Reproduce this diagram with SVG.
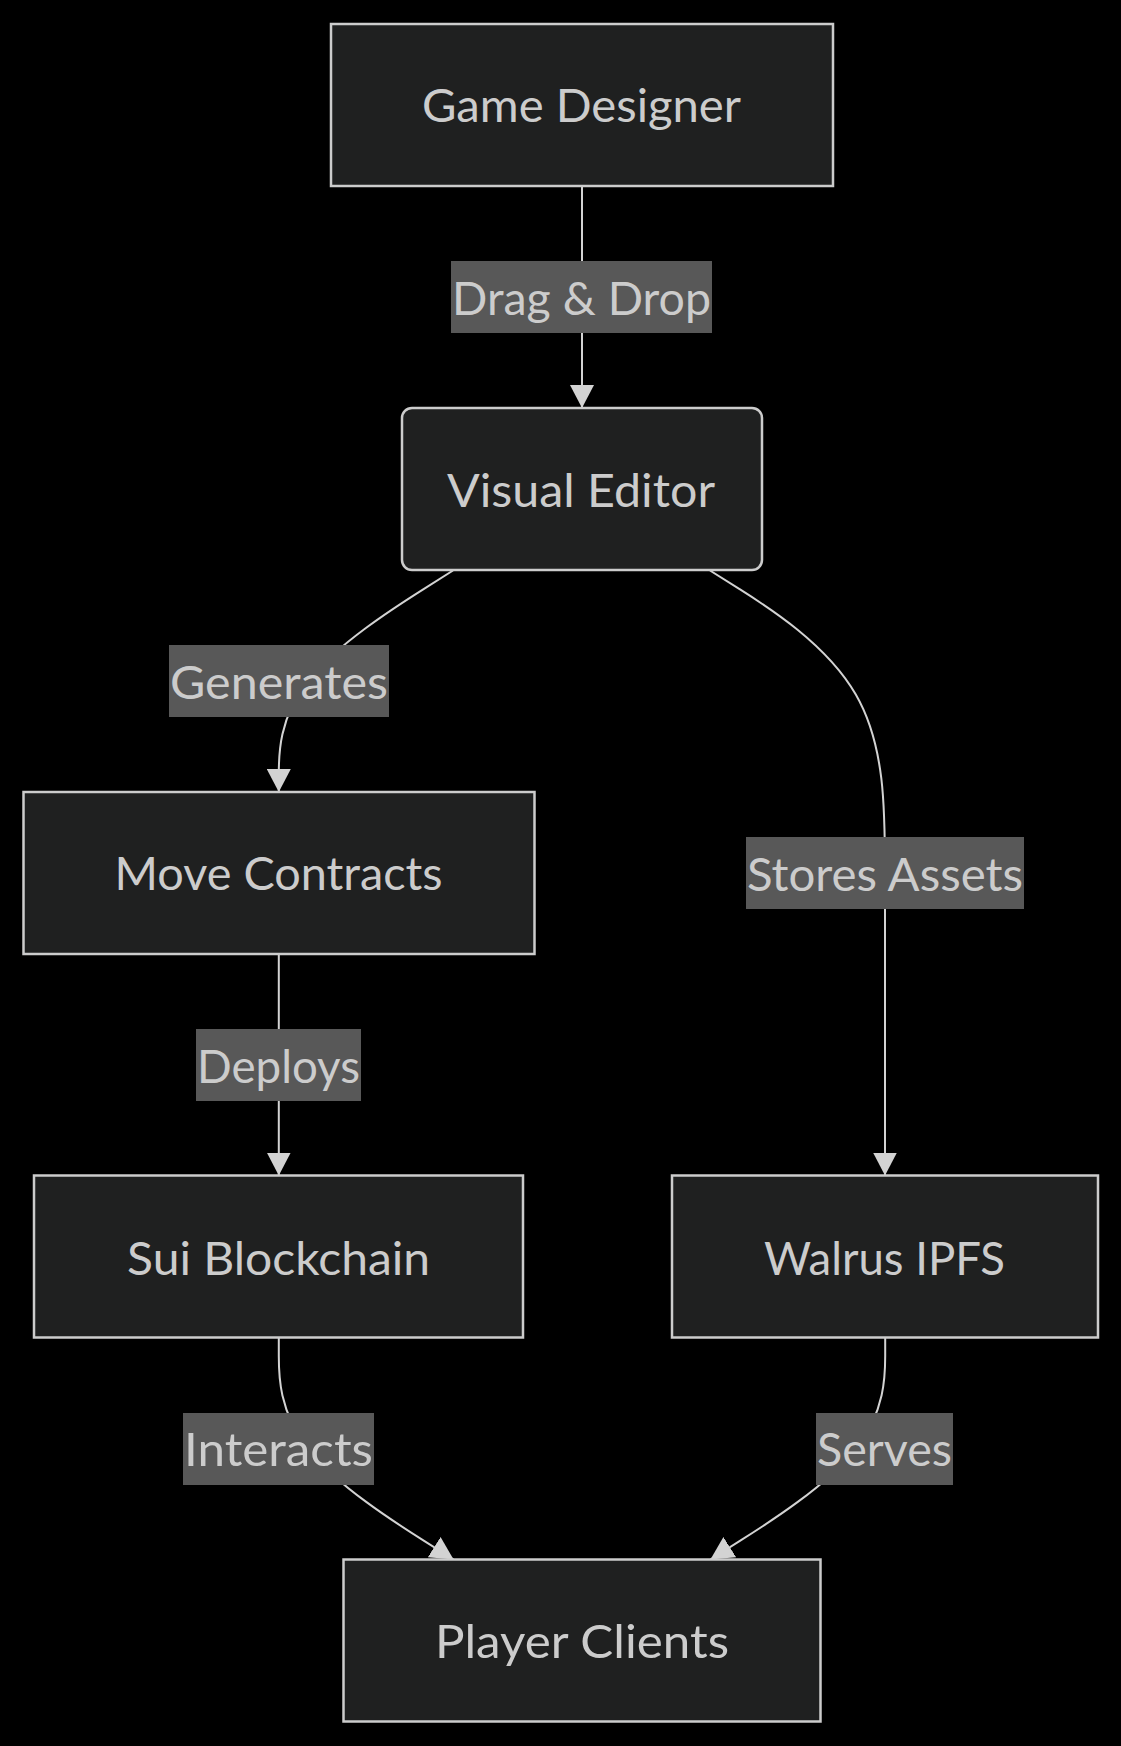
<svg xmlns="http://www.w3.org/2000/svg" width="1121" height="1746" viewBox="0 0 1121 1746">
  <style>
    .node rect { fill: #1f2020; stroke: #cccccc; stroke-width: 2.5; }
    .label { fill: #cccccc; font-family: "Trebuchet MS", Lato, "Liberation Sans", Arial, sans-serif; font-size: 47px; text-anchor: middle; }
    .edge { fill: none; stroke: #d3d3d3; stroke-width: 2; }
    .edge-label rect { fill: #585858; }
  </style>
  <defs>
    <marker id="arrow" viewBox="0 0 23 24" refX="23" refY="12" markerWidth="23" markerHeight="24" markerUnits="userSpaceOnUse" orient="auto">
      <path d="M0,0 L23,12 L0,24 z" fill="#d3d3d3"/>
    </marker>
  </defs>
  <rect x="0" y="0" width="1121" height="1746" fill="#000000"/>

  <g id="connectors">
    <path class="edge" marker-end="url(#arrow)" d="M582,186 L582,408"/>
    <path class="edge" marker-end="url(#arrow)" d="M453,570.5 L424,588.9 C394.9,607.3 336.9,644.2 307.8,681.1 C278.8,718 278.8,755 278.8,773.5 L278.8,792"/>
    <path class="edge" marker-end="url(#arrow)" d="M710,570.5 L739.2,588.9 C768.3,607.3 826.7,644.2 855.8,694.6 C885,745 885,809 885,873 L885,1175.5"/>
    <path class="edge" marker-end="url(#arrow)" d="M278.8,954 L278.8,1175.5"/>
    <path class="edge" marker-end="url(#arrow)" d="M278.8,1337.5 L278.8,1356.1 C278.8,1374.7 278.8,1411.8 307.9,1448.8 C337.1,1485.8 395.3,1522.7 424.5,1541.1 L453.6,1559.5"/>
    <path class="edge" marker-end="url(#arrow)" d="M885.2,1337.5 L885.2,1356.1 C885.2,1374.7 885.2,1411.8 856.1,1448.8 C826.9,1485.8 768.7,1522.7 739.5,1541.1 L710.4,1559.5"/>
  </g>

  <g id="edge-labels">
    <g class="edge-label" id="label-drag-drop">
      <rect x="451" y="261" width="261" height="72"/>
      <text class="label" x="581.5" y="314.5" textLength="259" lengthAdjust="spacingAndGlyphs">Drag &amp; Drop</text>
    </g>
    <g class="edge-label" id="label-generates">
      <rect x="169" y="645" width="220" height="72"/>
      <text class="label" x="279" y="698.5" textLength="218" lengthAdjust="spacingAndGlyphs">Generates</text>
    </g>
    <g class="edge-label" id="label-stores-assets">
      <rect x="746" y="837" width="278" height="72"/>
      <text class="label" x="885" y="890.5" textLength="276" lengthAdjust="spacingAndGlyphs">Stores Assets</text>
    </g>
    <g class="edge-label" id="label-deploys">
      <rect x="196" y="1029" width="165" height="72"/>
      <text class="label" x="278.5" y="1082.5" textLength="163" lengthAdjust="spacingAndGlyphs">Deploys</text>
    </g>
    <g class="edge-label" id="label-interacts">
      <rect x="183" y="1413" width="191" height="72"/>
      <text class="label" x="278.5" y="1466" textLength="189" lengthAdjust="spacingAndGlyphs">Interacts</text>
    </g>
    <g class="edge-label" id="label-serves">
      <rect x="816" y="1413" width="137" height="72"/>
      <text class="label" x="884.5" y="1466" textLength="135" lengthAdjust="spacingAndGlyphs">Serves</text>
    </g>
  </g>

  <g id="node-game-designer" class="node">
    <rect x="331" y="24" width="502" height="162"/>
    <text class="label" x="581.5" y="122" textLength="319" lengthAdjust="spacingAndGlyphs">Game Designer</text>
  </g>
  <g id="node-visual-editor" class="node">
    <rect x="402" y="408" width="360" height="162" rx="10" ry="10"/>
    <text class="label" x="581" y="506.5" textLength="268" lengthAdjust="spacingAndGlyphs">Visual Editor</text>
  </g>
  <g id="node-move-contracts" class="node">
    <rect x="23.5" y="792" width="511" height="162"/>
    <text class="label" x="278.6" y="890" textLength="328" lengthAdjust="spacingAndGlyphs">Move Contracts</text>
  </g>
  <g id="node-sui-blockchain" class="node">
    <rect x="34" y="1175.5" width="489" height="162"/>
    <text class="label" x="278.6" y="1274.5" textLength="303" lengthAdjust="spacingAndGlyphs">Sui Blockchain</text>
  </g>
  <g id="node-walrus-ipfs" class="node">
    <rect x="672" y="1175.5" width="426" height="162"/>
    <text class="label" x="884.5" y="1274.5" textLength="241" lengthAdjust="spacingAndGlyphs">Walrus IPFS</text>
  </g>
  <g id="node-player-clients" class="node">
    <rect x="343.5" y="1559.5" width="477" height="162"/>
    <text class="label" x="582" y="1658" textLength="294" lengthAdjust="spacingAndGlyphs">Player Clients</text>
  </g>
</svg>
